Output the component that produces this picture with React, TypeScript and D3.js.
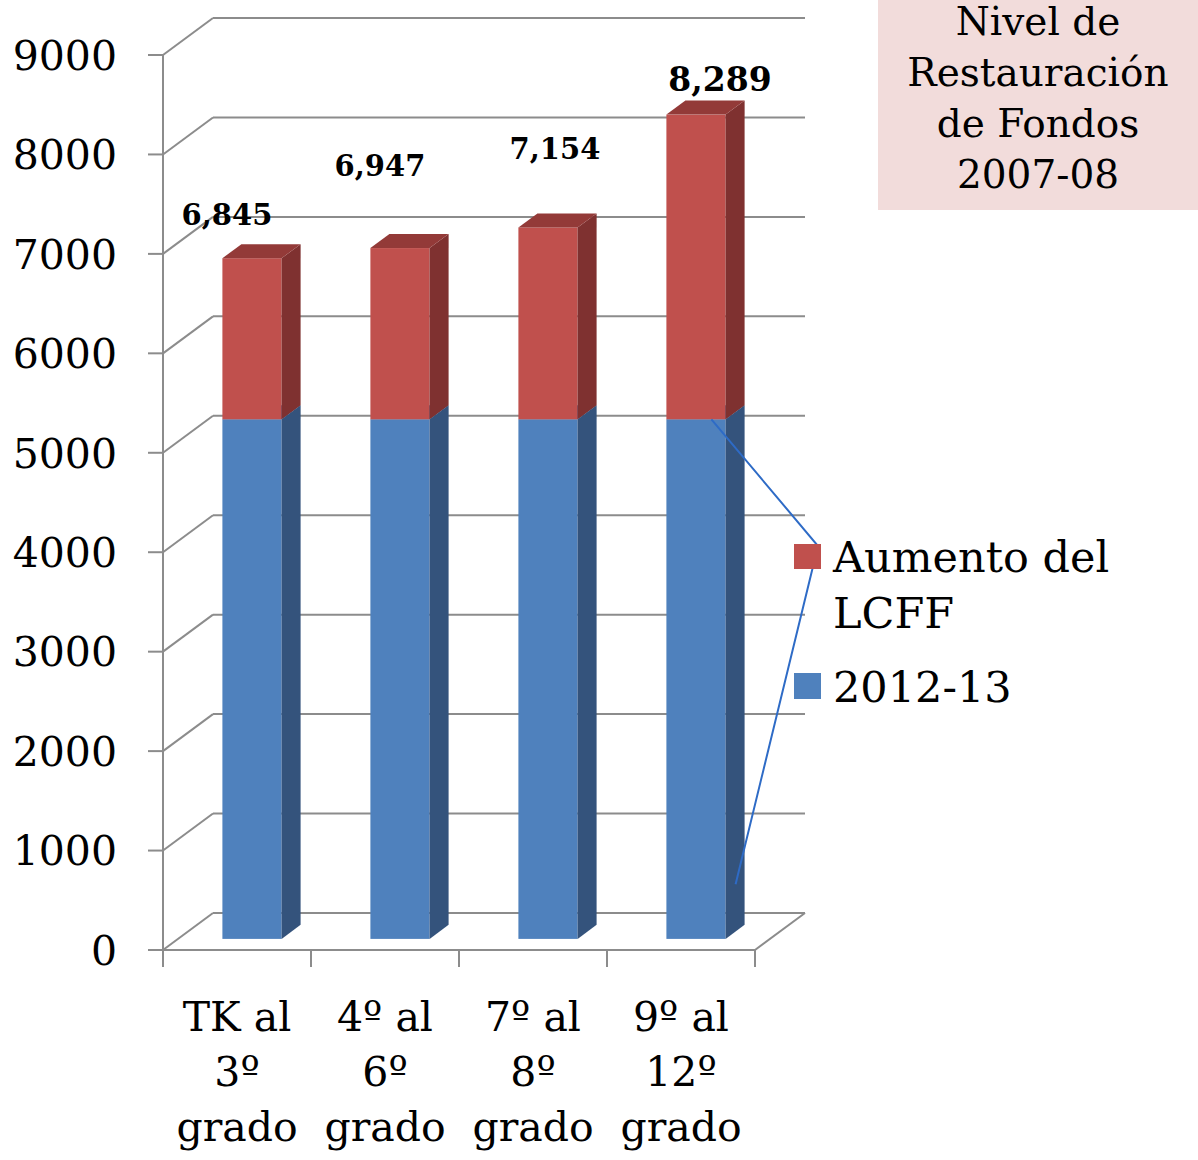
import React from 'react';
import * as d3 from 'd3';

// Values
const categories = ['TK al|3º|grado', '4º al|6º|grado', '7º al|8º|grado', '9º al|12º|grado'];
const base201213 = [5225, 5225, 5225, 5225];
const totals = [6845, 6947, 7154, 8289];
const totalLabels = ['6,845', '6,947', '7,154', '8,289'];
const yTicks = [0, 1000, 2000, 3000, 4000, 5000, 6000, 7000, 8000, 9000];
const legendItems = ['Aumento del|LCFF', '2012-13'];
const titleLines = ['Nivel de', 'Restauración', 'de Fondos', '2007-08'];

// hand-placed label nudges from the original slide [dx, dy, fontSize]
const labelNudge: [number, number, number][] = [[-25, -33, 29], [-20, -72, 29], [7, -68, 29], [24, -24, 33]];

const W = 1198;
const H = 1160;
const FONT = '"DejaVu Serif", serif';
const GRID = '#8c8c8c';

// 3d depth: full depth moves this far right / up
const DEPTH_X = 50;
const DEPTH_Y = 37;
const BAR_D0 = 0.3;
const BAR_D1 = 0.68;

const colors = {
  blue: { front: '#4f81bd', side: '#34537c', top: '#3f6799' },
  red: { front: '#c0504d', side: '#7f3130', top: '#933a38' },
};

const App: React.FC = () => {
  const x = d3.scaleBand<number>()
    .domain(d3.range(categories.length))
    .range([163, 755])
    .paddingInner(0.6)
    .paddingOuter(0.3);
  const step = x.step();

  const y = d3.scaleLinear().domain([0, 9000]).range([950, 55]);

  const px = (v: number, d: number) => v + DEPTH_X * d;
  const py = (v: number, d: number) => y(v) - DEPTH_Y * d;

  const bdx = DEPTH_X * (BAR_D1 - BAR_D0);
  const bdy = DEPTH_Y * (BAR_D1 - BAR_D0);

  const pts = (a: [number, number][]) => a.map(p => p.join(',')).join(' ');

  const box = (i: number, v0: number, v1: number, c: { front: string; side: string; top: string }) => {
    const xl = px(x(i)!, BAR_D0);
    const xr = xl + x.bandwidth();
    const yb = py(v0, BAR_D0);
    const yt = py(v1, BAR_D0);
    return (
      <g key={`${i}-${v0}`}>
        <rect x={xl} y={yt} width={xr - xl} height={yb - yt} fill={c.front} />
        <polygon points={pts([[xr, yb], [xr + bdx, yb - bdy], [xr + bdx, yt - bdy], [xr, yt]])} fill={c.side} />
        <polygon points={pts([[xl, yt], [xl + bdx, yt - bdy], [xr + bdx, yt - bdy], [xr, yt]])} fill={c.top} />
      </g>
    );
  };

  const x0 = x.range()[0];
  const x1 = x.range()[1];

  // legend placement
  const legX = 794;
  const legRedY = 544;
  const legBlueY = 673;

  // stray leader line from the slide
  const lastX = px(x(3)!, BAR_D0);
  const leader: [number, number][] = [
    [lastX + 45, py(base201213[3], BAR_D0)],
    [legX + 24, legRedY + 2],
    [lastX + x.bandwidth() + 10, py(550, BAR_D0)],
  ];

  return (
    <svg width={W} height={H} style={{ position: 'absolute', left: 0, top: 0, background: '#fff' }} fontFamily={FONT}>
      {/* walls */}
      <g stroke={GRID} strokeWidth={2} fill="none">
        {yTicks.map(t => (
          <g key={t}>
            <line x1={x0 - 15} x2={x0} y1={y(t)} y2={y(t)} />
            <line x1={x0} y1={y(t)} x2={px(x0, 1)} y2={py(t, 1)} />
            <line x1={px(x0, 1)} y1={py(t, 1)} x2={px(x1, 1)} y2={py(t, 1)} />
          </g>
        ))}
        <line x1={x0} y1={y(9000)} x2={x0} y2={y(0) + 17} />
        <line x1={x0} y1={y(0)} x2={x1} y2={y(0)} />
        <line x1={x1} y1={y(0)} x2={px(x1, 1)} y2={py(0, 1)} />
        {d3.range(categories.length + 1).map(k => (
          <line key={k} x1={x0 + k * step} x2={x0 + k * step} y1={y(0)} y2={y(0) + 17} />
        ))}
      </g>

      {/* y labels */}
      {yTicks.map(t => (
        <text key={t} x={117} y={y(t)} dy="0.36em" textAnchor="end" fontSize={41} fill="#000">{t}</text>
      ))}

      {/* bars */}
      {categories.map((_, i) => (
        <g key={i}>
          {box(i, 0, base201213[i], colors.blue)}
          {box(i, base201213[i], totals[i], colors.red)}
        </g>
      ))}

      {/* total labels */}
      {totals.map((t, i) => {
        const cx = px(x(i)!, BAR_D0) + x.bandwidth() / 2 + labelNudge[i][0];
        const cy = py(t, BAR_D0) + labelNudge[i][1];
        return (
          <text key={i} x={cx} y={cy} textAnchor="middle" fontWeight="bold" fontSize={labelNudge[i][2]} fill="#000">
            {totalLabels[i]}
          </text>
        );
      })}

      {/* category labels */}
      {categories.map((c, i) => (
        <text key={i} x={x0 + step * (i + 0.5)} y={1031} textAnchor="middle" fontSize={41} fill="#000">
          {c.split('|').map((ln, k) => (
            <tspan key={k} x={x0 + step * (i + 0.5)} dy={k === 0 ? 0 : 55}>{ln}</tspan>
          ))}
        </text>
      ))}

      {/* leader line */}
      <polyline points={pts(leader)} fill="none" stroke="#2e6bc6" strokeWidth={2} />

      {/* legend */}
      <rect x={legX} y={legRedY} width={27} height={25} fill={colors.red.front} />
      <rect x={legX} y={legBlueY} width={27} height={26} fill={colors.blue.front} />
      <text x={833} y={572} fontSize={43} fill="#000">
        {legendItems[0].split('|').map((ln, k) => (
          <tspan key={k} x={833} dy={k === 0 ? 0 : 56}>{ln}</tspan>
        ))}
      </text>
      <text x={833} y={702} fontSize={43} fill="#000">{legendItems[1]}</text>

      {/* title box */}
      <rect x={878} y={0} width={W - 878} height={210} fill="#f2dcdb" />
      <text x={1038} y={35} textAnchor="middle" fontSize={39} fill="#000">
        {titleLines.map((ln, k) => (
          <tspan key={k} x={1038} dy={k === 0 ? 0 : 51}>{ln}</tspan>
        ))}
      </text>
    </svg>
  );
};

export default App;
